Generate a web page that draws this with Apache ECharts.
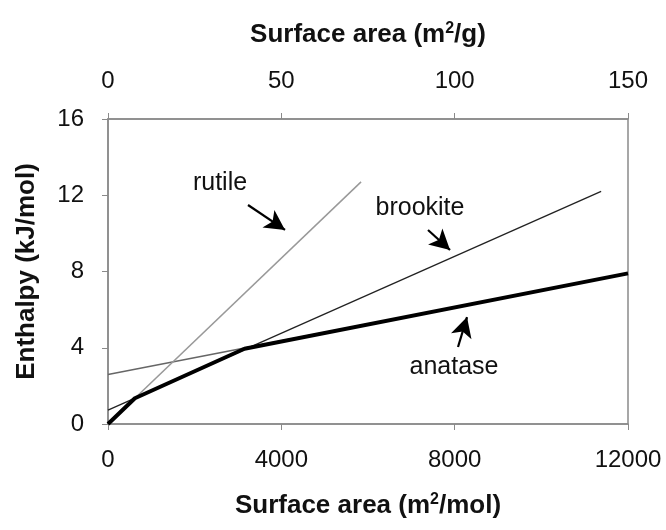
<!DOCTYPE html>
<html><head><meta charset="utf-8">
<script src="https://cdn.jsdelivr.net/npm/echarts@6/dist/echarts.min.js"></script>
<style>html,body{margin:0;padding:0;background:#fff}#c{width:666px;height:530px}</style>
</head><body><div id="c"></div>
<script>
// Data (x: surface area m2/mol, y: enthalpy kJ/mol)
const rutile   = [[0, 0], [5840, 12.7]];
const anatase  = [[0, 2.6], [12000, 7.9]];
const brookite = [[0, 0.73], [11380, 12.2]];
const stable   = [[0, 0], [620, 1.35], [3150, 3.95], [12000, 7.9]];
const labelNames = ['rutile', 'brookite', 'anatase'];
const labelPos = [[2585, 12.64], [7200, 11.33], [7985, 2.99]];
const arrows = [
  [[3231, 11.49], [4085, 10.18]],
  [[7385, 10.18], [7893, 9.13]],
  [[8077, 4.04], [8285, 5.61]]
];
const yTicks = [0, 4, 8, 12, 16];
const xTicksBottom = [0, 4000, 8000, 12000];
const xTicksTop = [0, 50, 100, 150];

const font = 'Liberation Sans, Arial, sans-serif';
const tickFont = 24, titleFont = 26;
const fmt = v => String(v);
const rich = {
  n: { fontSize: titleFont, fontWeight: 'bold', fontFamily: font, color: '#111' },
  s: { fontSize: 16, fontWeight: 'bold', fontFamily: font, color: '#111', verticalAlign: 'top', padding: [0, 0, 12, 0] }
};
const axisCommon = {
  axisLine: { show: true, lineStyle: { color: '#8a8a8a', width: 1.5 } },
  axisTick: { show: true, length: 6, lineStyle: { color: '#8a8a8a' } },
  splitLine: { show: false }
};
const chart = echarts.init(document.getElementById('c'));
chart.setOption({
  animation: false,
  backgroundColor: '#fff',
  grid: { left: 108, right: 38, top: 119, bottom: 106, show: true, borderColor: '#8a8a8a', borderWidth: 1.5 },
  xAxis: [
    Object.assign({ type: 'value', min: xTicksBottom[0], max: xTicksBottom[3], interval: 4000, position: 'bottom',
      axisLabel: { color: '#111', fontSize: tickFont, fontFamily: font, margin: 24, formatter: fmt },
      name: '{n|Surface area (m}{s|2}{n|/mol)}', nameLocation: 'middle', nameGap: 68,
      nameTextStyle: { rich } }, axisCommon),
    Object.assign({ type: 'value', min: xTicksTop[0], max: xTicksTop[3], interval: 50, position: 'top',
      axisLabel: { color: '#111', fontSize: tickFont, fontFamily: font, margin: 26, formatter: fmt },
      name: '{n|Surface area (m}{s|2}{n|/g)}', nameLocation: 'middle', nameGap: 70,
      nameTextStyle: { rich } }, axisCommon)
  ],
  yAxis: Object.assign({ type: 'value', min: yTicks[0], max: yTicks[4], interval: 4,
    axisLabel: { color: '#111', fontSize: tickFont, fontFamily: font, margin: 24, formatter: fmt },
    name: 'Enthalpy (kJ/mol)', nameLocation: 'middle', nameGap: 68, nameRotate: 90,
    nameTextStyle: { fontSize: titleFont, fontWeight: 'bold', fontFamily: font, color: '#111' } }, axisCommon),
  series: [
    { name: 'anatase', type: 'line', data: anatase, showSymbol: false, lineStyle: { color: '#666', width: 1.5 }, z: 2 },
    { name: 'rutile', type: 'line', data: rutile, showSymbol: false, lineStyle: { color: '#999', width: 1.5 }, z: 2 },
    { name: 'brookite', type: 'line', data: brookite, showSymbol: false, lineStyle: { color: '#222', width: 1.3 }, z: 3 },
    { name: 'stable', type: 'line', data: stable, showSymbol: false, lineStyle: { color: '#000', width: 4 }, z: 4 },
    { name: 'labels', type: 'scatter', symbolSize: 0, z: 5, itemStyle: { opacity: 1 },
      data: labelPos.map((p, i) => ({ value: p, name: labelNames[i] })),
      label: { show: true, position: 'inside', formatter: p => p.name, fontSize: 25, fontFamily: font, color: '#111', opacity: 1 },
      markLine: { silent: true, symbol: ['none', 'arrow'], symbolSize: [16, 20],
        lineStyle: { color: '#000', width: 2.2, type: 'solid', opacity: 1 }, label: { show: false },
        data: arrows.map(a => [{ coord: a[0] }, { coord: a[1] }]) } }
  ]
});
</script></body></html>
